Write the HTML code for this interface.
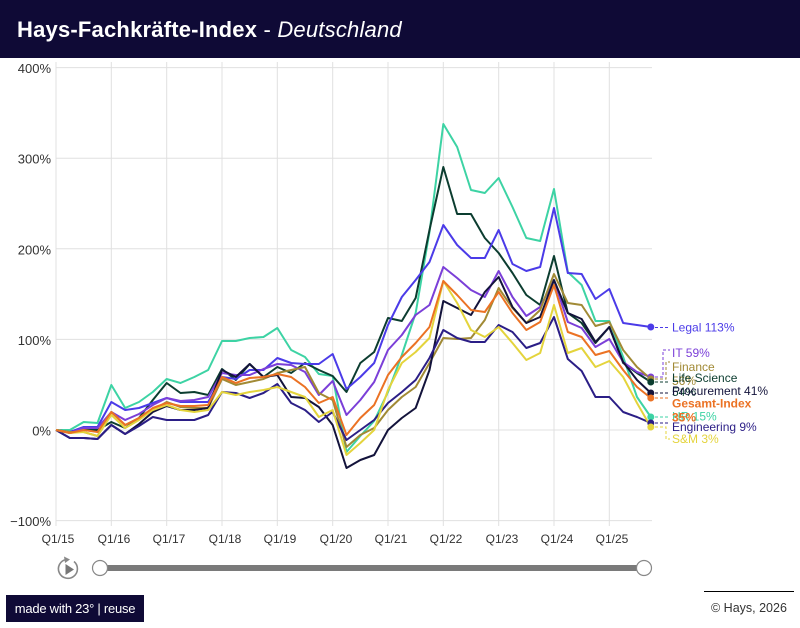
<!DOCTYPE html>
<html><head><meta charset="utf-8">
<style>
html,body{margin:0;padding:0;background:#fff;}
body{width:800px;height:628px;overflow:hidden;position:relative;font-family:"Liberation Sans",Arial,sans-serif;}
.hdr{position:absolute;left:0;top:0;width:800px;height:58px;background:#0f0a36;}
.hdr .t{position:absolute;left:17px;top:17px;font-size:22px;color:#fff;white-space:nowrap;line-height:26px;letter-spacing:0.2px;}
.hdr b{font-weight:bold;}
.hdr i{font-weight:normal;}
svg{position:absolute;left:0;top:0;}
.badge{position:absolute;left:6px;top:595px;width:138px;height:27px;background:#0f0a36;color:#fff;font-size:13px;letter-spacing:-0.25px;line-height:27px;text-align:center;white-space:nowrap;}
.copy{position:absolute;left:704px;top:591px;width:90px;border-top:1.5px solid #000;}
.copyt{position:absolute;left:711px;top:601px;font-size:12.5px;color:#333;white-space:nowrap;}
</style></head>
<body>
<div class="hdr"><div class="t"><b>Hays-Fachkräfte-Index</b> - <i>Deutschland</i></div></div>
<svg width="800" height="628" viewBox="0 0 800 628" xmlns="http://www.w3.org/2000/svg">
<g stroke="#e0e0e0" stroke-width="1" fill="none">
<path d="M56,67.6H652M56,158.2H652M56,248.8H652M56,339.4H652M56,430H652M56,520.6H652"/>
<path d="M56,62V526M111.3,62V526M166.7,62V526M222,62V526M277.3,62V526M332.7,62V526M388,62V526M443.3,62V526M498.7,62V526M554,62V526M609.3,62V526"/>
</g>
<g font-size="13" fill="#333" text-anchor="end">
<text x="51" y="73">400%</text>
<text x="51" y="163.7">300%</text>
<text x="51" y="254.3">200%</text>
<text x="51" y="344.9">100%</text>
<text x="51" y="435.5">0%</text>
<text x="51" y="526.1">−100%</text>
</g>
<g font-size="12" fill="#333" text-anchor="middle">
<text x="58" y="543">Q1/15</text>
<text x="114" y="543">Q1/16</text>
<text x="169" y="543">Q1/17</text>
<text x="225" y="543">Q1/18</text>
<text x="280" y="543">Q1/19</text>
<text x="336" y="543">Q1/20</text>
<text x="391" y="543">Q1/21</text>
<text x="446" y="543">Q1/22</text>
<text x="502" y="543">Q1/23</text>
<text x="557" y="543">Q1/24</text>
<text x="612" y="543">Q1/25</text>
</g>
<g transform="translate(56,0) scale(13.833,1)" fill="none" stroke-width="2" stroke-linejoin="round">
<polyline vector-effect="non-scaling-stroke" stroke="#3dd3a4" points="0,430 1,430 2,422 3,423 4,385 5,408 6,402 7,392 8,379 9,383 10,377 11,370 12,341 13,341 14,338 15,337 16,328 17,350 18,357 19,374 20,376 21,452 22,436 23,421 24,392 25,355 26,313 27,232 28,124 29,147 30,190 31,193 32,178 33,207 34,238 35,241 36,189 37,272 38,285 39,321 40,321 41,357 42,397 43,417"/>
<polyline vector-effect="non-scaling-stroke" stroke="#0c3d30" points="0,430 1,433 2,430 3,430 4,422 5,428 6,418 7,400 8,383 9,393 10,392 11,395 12,369 13,380 14,364 15,377 16,367 17,373 18,363 19,370 20,376 21,392 22,363 23,352 24,318 25,321 26,298 27,230 28,167 29,214 30,214 31,238 32,253 33,273 34,295 35,305 36,256 37,313 38,323 39,343 40,327 41,363 42,373 43,382"/>
<polyline vector-effect="non-scaling-stroke" stroke="#4b3be8" points="0,430 1,432 2,427 3,427 4,402 5,410 6,408 7,403 8,398 9,402 10,402 11,402 12,377 13,379 14,370 15,370 16,358 17,363 18,364 19,364 20,354 21,389 22,377 23,363 24,325 25,297 26,280 27,262 28,225 29,245 30,258 31,258 32,230 33,264 34,271 35,267 36,208 37,273 38,274 39,299 40,289 41,323 42,325 43,327"/>
<polyline vector-effect="non-scaling-stroke" stroke="#7b3fd8" points="0,430 1,433 2,428 3,428 4,412 5,420 6,414 7,405 8,398 9,401 10,400 11,397 12,373 13,375 14,375 15,369 16,364 17,365 18,372 19,395 20,381 21,415 22,400 23,382 24,350 25,335 26,315 27,305 28,267 29,278 30,290 31,297 32,271 33,297 34,316 35,307 36,280 37,322 38,328 39,347 40,339 41,362 42,372 43,377"/>
<polyline vector-effect="non-scaling-stroke" stroke="#a18a35" points="0,430 1,432 2,432 3,436 4,412 5,425 6,418 7,410 8,402 9,407 10,408 11,408 12,379 13,385 14,382 15,379 16,373 17,370 18,367 19,393 20,400 21,447 22,435 23,428 24,410 25,397 26,387 27,363 28,338 29,339 30,338 31,320 32,288 33,308 34,323 35,310 36,274 37,303 38,305 39,326 40,322 41,350 42,367 43,379"/>
<polyline vector-effect="non-scaling-stroke" stroke="#13133b" points="0,430 1,438 2,438 3,439 4,425 5,434 6,424 7,412 8,406 9,410 10,410 11,408 12,370 13,377 14,364 15,377 16,375 17,397 18,398 19,407 20,425 21,468 22,460 23,455 24,430 25,418 26,408 27,370 28,301 29,308 30,315 31,292 32,277 33,307 34,323 35,317 36,280 37,313 38,319 39,342 40,327 41,362 42,380 43,393"/>
<polyline vector-effect="non-scaling-stroke" stroke="#2b1e86" points="0,430 1,438 2,438 3,439 4,425 5,434 6,426 7,417 8,420 9,420 10,420 11,415 12,392 13,393 14,398 15,393 16,384 17,403 18,410 19,422 20,412 21,440 22,430 23,420 24,403 25,392 26,380 27,358 28,330 29,338 30,342 31,342 32,325 33,332 34,348 35,343 36,317 37,359 38,371 39,397 40,397 41,412 42,417 43,423"/>
<polyline vector-effect="non-scaling-stroke" stroke="#e4d43c" points="0,430 1,433 2,432 3,436 4,415 5,428 6,420 7,410 8,405 9,410 10,412 11,410 12,392 13,395 14,392 15,390 16,387 17,392 18,397 19,417 20,410 21,455 22,443 23,430 24,390 25,363 26,352 27,338 28,281 29,303 30,330 31,337 32,327 33,343 34,360 35,353 36,305 37,353 38,348 39,367 40,361 41,377 42,403 43,427"/>
<polyline vector-effect="non-scaling-stroke" stroke="#eb7224" points="0,430 1,433 2,430 3,432 4,412 5,425 6,418 7,408 8,403 9,406 10,406 11,405 12,377 13,383 14,378 15,377 16,374 17,377 18,387 19,403 20,397 21,435 22,418 23,405 24,375 25,357 26,343 27,327 28,281 29,295 30,310 31,312 32,292 33,313 34,330 35,322 36,285 37,332 38,337 39,355 40,351 41,370 42,387 43,398"/>
</g>
<g fill="none" stroke-width="1" stroke-dasharray="3,2">
<path stroke="#4b3be8" d="M655,327.5H670"/>
<path stroke="#7b3fd8" d="M655,377H663V350H670"/>
<path stroke="#a18a35" d="M655,379H666V362H670"/>
<path stroke="#0c3d30" d="M655,382H670"/>
<path stroke="#13133b" d="M655,393H670"/>
<path stroke="#eb7224" d="M655,398H670"/>
<path stroke="#3dd3a4" d="M655,417H670"/>
<path stroke="#2b1e86" d="M655,423H670"/>
<path stroke="#e4d43c" d="M655,427H666V439H670"/>
</g>
<g>
<circle cx="650.8" cy="327" r="3.5" fill="#4b3be8"/>
<circle cx="650.8" cy="377" r="3.5" fill="#7b3fd8"/>
<circle cx="650.8" cy="379" r="3.5" fill="#a18a35"/>
<circle cx="650.8" cy="382" r="3.5" fill="#0c3d30"/>
<circle cx="650.8" cy="393" r="3.5" fill="#13133b"/>
<circle cx="650.8" cy="398" r="3.5" fill="#eb7224"/>
<circle cx="650.8" cy="417" r="3.5" fill="#3dd3a4"/>
<circle cx="650.8" cy="423" r="3.5" fill="#2b1e86"/>
<circle cx="650.8" cy="427" r="3.5" fill="#e4d43c"/>
</g>
<g font-size="12">
<text x="672" y="331.5" fill="#4b3be8">Legal 113%</text>
<text x="672" y="357" fill="#7b3fd8">IT 59%</text>
<text x="672" y="371" fill="#a18a35">Finance</text>
<text x="672" y="385" fill="#a18a35">56%</text>
<text x="672" y="382" fill="#0c3d30">Life Science</text>
<text x="672" y="396" fill="#0c3d30">54%</text>
<text x="672" y="395" fill="#13133b">Procurement 41%</text>
<text x="672" y="420.5" fill="#3dd3a4">HR 15%</text>
<text x="672" y="407.5" fill="#eb7224" font-weight="bold">Gesamt-Index</text>
<text x="672" y="421.5" fill="#eb7224" font-weight="bold">35%</text>
<text x="672" y="431" fill="#2b1e86">Engineering 9%</text>
<text x="672" y="443" fill="#e4d43c">S&amp;M 3%</text>
</g>
<!-- slider -->
<line x1="100" y1="568" x2="644" y2="568" stroke="#7a7a7a" stroke-width="6"/>
<circle cx="100" cy="568" r="7.5" fill="#fff" stroke="#888" stroke-width="1.2"/>
<circle cx="644" cy="568" r="7.5" fill="#fff" stroke="#888" stroke-width="1.2"/>
<path d="M74,561.5 A9.5,9.5 0 1 1 66,559.5" fill="none" stroke="#888" stroke-width="1.6"/>
<path d="M64,556.5 L70,559.5 L65,563 Z" fill="#888"/>
<path d="M65.5,564 L74,569.5 L65.5,575 Z" fill="#777"/>
</svg>
<div class="badge">made with 23° | reuse</div>
<div class="copy"></div>
<div class="copyt">© Hays, 2026</div>
</body></html>
